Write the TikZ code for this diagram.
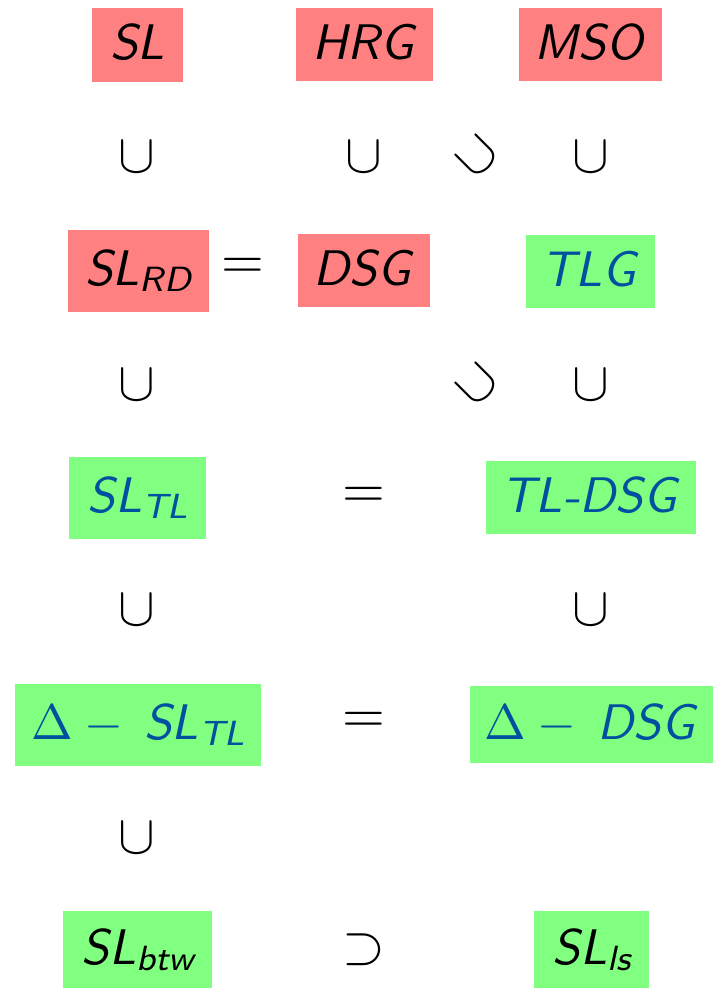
\documentclass[tikz,border=0pt]{standalone}
\usepackage{fontspec}
\usepackage{graphicx}

\definecolor{langred}{RGB}{255,128,128}
\definecolor{langgreen}{RGB}{128,255,128}
\definecolor{langblue}{RGB}{0,80,160}

% language name with an optional subscript, sans oblique
\newcommand{\lng}[2]{\scalebox{5}{\textsf{\itshape #1}\raisebox{-0.12em}{\fontsize{7}{8}\selectfont\sffamily\itshape #2}}}
% Delta-prefixed language name
\newcommand{\dlng}[2]{\scalebox{5}{$\Delta-{}$\hspace{2pt}\textsf{\itshape #1}\raisebox{-0.12em}{\fontsize{7}{8}\selectfont\sffamily\itshape #2}}}
% relation symbols between the classes
\newcommand{\rel}[1]{\scalebox{5.5}{$#1$}}
\newcommand{\diagsub}{\scalebox{5.5}{\rotatebox{45}{$\cup$}}}

\tikzset{
  redbox/.style={fill=langred, text=black, inner sep=0pt, anchor=center},
  greenbox/.style={fill=langgreen, text=langblue, inner sep=0pt, anchor=center},
  greenblack/.style={fill=langgreen, text=black, inner sep=0pt, anchor=center},
  relsym/.style={inner sep=0pt, anchor=center}
}

\begin{document}
\begin{tikzpicture}[x=1pt,y=-1pt]
\useasboundingbox (0,0) rectangle (713,988);

% top row
\node[redbox, minimum width=91pt, minimum height=74pt] (sl) at (137.5,44.5) {\lng{SL}{}};
\node[redbox, minimum width=137pt, minimum height=73pt] (hrg) at (364.5,44.5) {\lng{HRG}{}};
\node[redbox, minimum width=143pt, minimum height=73pt] (mso) at (590.5,44.5) {\lng{MSO}{}};

\node[relsym] (c11) at (137,157) {\rel{\cup}};
\node[relsym] (c12) at (364,157) {\rel{\cup}};
\node[relsym] (d12) at (478,157) {\diagsub};
\node[relsym] (c13) at (591,157) {\rel{\cup}};

% second row
\node[redbox, minimum width=141pt, minimum height=82pt] (slrd) at (138,271) {\lng{SL}{RD}};
\node[relsym] (e21) at (243,268) {\rel{=}};
\node[redbox, minimum width=132pt, minimum height=73pt] (dsg) at (364,270.5) {\lng{DSG}{}};
\node[greenbox, minimum width=129pt, minimum height=73pt] (tlg) at (590.5,271.5) {\lng{TLG}{}};

\node[relsym] (c21) at (137,385) {\rel{\cup}};
\node[relsym] (d22) at (478,385) {\diagsub};
\node[relsym] (c23) at (591,385) {\rel{\cup}};

% third row
\node[greenbox, minimum width=137pt, minimum height=82pt] (sltl) at (137.5,497.5) {\lng{SL}{TL}};
\node[relsym] (e32) at (364,497) {\rel{=}};
\node[greenbox, minimum width=210pt, minimum height=73pt] (tldsg) at (591,497.5) {\lng{TL-DSG}{}};

\node[relsym] (c31) at (137,610) {\rel{\cup}};
\node[relsym] (c33) at (591,610) {\rel{\cup}};

% fourth row
\node[greenbox, minimum width=246pt, minimum height=82pt] (dsltl) at (138,725) {\dlng{SL}{TL}};
\node[relsym] (e42) at (364,722) {\rel{=}};
\node[greenbox, minimum width=243pt, minimum height=77pt] (ddsg) at (591.5,724.5) {\dlng{DSG}{}};

\node[relsym] (c41) at (137,838) {\rel{\cup}};

% bottom row
\node[greenblack, minimum width=149pt, minimum height=78pt] (slbtw) at (137.5,950) {\lng{SL}{btw}};
\node[relsym] (s52) at (364,950) {\rel{\supset}};
\node[greenblack, minimum width=115pt, minimum height=78pt] (slls) at (591.5,950) {\lng{SL}{ls}};
\end{tikzpicture}
\end{document}
